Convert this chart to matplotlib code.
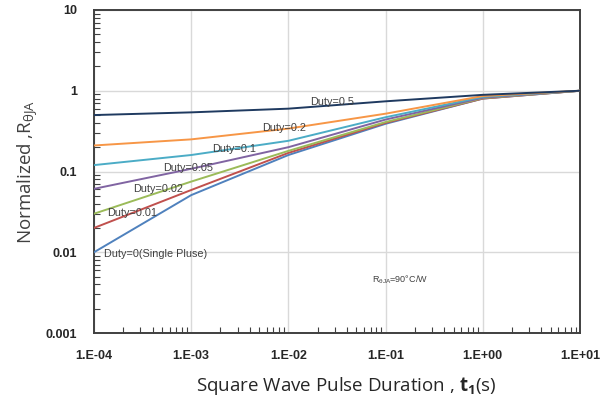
import matplotlib
matplotlib.use("Agg")
import matplotlib.pyplot as plt
from matplotlib.ticker import LogLocator, NullFormatter, FixedLocator

plt.rcParams['font.family'] = ['Liberation Sans', 'DejaVu Sans']
plt.rcParams['mathtext.fontset'] = 'custom'
plt.rcParams['mathtext.rm'] = 'Open Sans'
plt.rcParams['mathtext.bf'] = 'Open Sans:bold'
plt.rcParams['mathtext.it'] = 'Open Sans:italic'

# pulse duration (s)
t1 = [1e-4, 1e-3, 1e-2, 1e-1, 1, 10]

# normalized thermal impedance per duty cycle
duty_05 = [0.50, 0.54, 0.60, 0.74, 0.89, 1.0]
duty_02 = [0.21, 0.25, 0.34, 0.52, 0.86, 1.0]
duty_01 = [0.12, 0.16, 0.24, 0.47, 0.84, 1.0]
duty_005 = [0.061, 0.108, 0.20, 0.44, 0.82, 1.0]
duty_002 = [0.030, 0.075, 0.18, 0.41, 0.81, 1.0]
duty_001 = [0.020, 0.059, 0.17, 0.40, 0.80, 1.0]
single_pulse = [0.010, 0.051, 0.16, 0.39, 0.80, 1.0]

x_ticks = [1e-4, 1e-3, 1e-2, 1e-1, 1, 10]
x_labels = ["1.E-04", "1.E-03", "1.E-02", "1.E-01", "1.E+00", "1.E+01"]
y_ticks = [0.001, 0.01, 0.1, 1, 10]
y_labels = ["0.001", "0.01", "0.1", "1", "10"]

series = [
    (single_pulse, "#4F81BD", "Duty=0(Single Pluse)", (104, 254)),
    (duty_001, "#C0504D", "Duty=0.01", (107, 213)),
    (duty_002, "#9BBB59", "Duty=0.02", (133, 189)),
    (duty_005, "#8064A2", "Duty=0.05", (163, 168)),
    (duty_01, "#4BACC6", "Duty=0.1", (212, 149)),
    (duty_02, "#F79646", "Duty=0.2", (262, 128)),
    (duty_05, "#1F3A60", "Duty=0.5", (310, 102)),
]

W, H = 611, 400
fig = plt.figure(figsize=(W / 100, H / 100), dpi=100)
ax = fig.add_axes([94 / W, 1 - 333 / H, (580 - 94) / W, (333 - 10) / H])

for vals, color, label, (px, py) in series:
    ax.plot(t1, vals, color=color, lw=1.4, zorder=3)
    # labels placed in figure pixels
    fig.text(px / W, 1 - py / H, label, fontsize=7.8, color="#404040",
             ha="left", va="center", zorder=5)

ax.set_xscale("log")
ax.set_yscale("log")
ax.set_xlim(1e-4, 10)
ax.set_ylim(0.001, 10)

ax.xaxis.set_major_locator(FixedLocator(x_ticks))
ax.set_xticklabels(x_labels)
ax.yaxis.set_major_locator(FixedLocator(y_ticks))
ax.set_yticklabels(y_labels)
ax.xaxis.set_minor_locator(LogLocator(base=10, subs=range(2, 10)))
ax.yaxis.set_minor_locator(LogLocator(base=10, subs=range(2, 10)))
ax.xaxis.set_minor_formatter(NullFormatter())
ax.yaxis.set_minor_formatter(NullFormatter())

ax.tick_params(which="major", direction="in", length=0, pad=12,
               labelsize=9, labelcolor="#262626")
ax.tick_params(axis="x", which="major", pad=12)
ax.tick_params(which="minor", direction="in", length=4, width=0.8, color="#404040")
for lab in ax.get_xticklabels() + ax.get_yticklabels():
    lab.set_fontweight("bold")

ax.grid(True, which="major", color="#D9D9D9", lw=1.0, zorder=0)
for sp in ax.spines.values():
    sp.set_color("#404040")
    sp.set_linewidth(1.4)

ax.set_ylabel("Normalized ,R$_{\\mathregular{θJA}}$", fontsize=13.5,
              family="Open Sans", color="#404040", labelpad=4)
ax.set_xlabel("Square Wave Pulse Duration , $\\mathbf{t_1}$(s)", fontsize=13.5,
              family="Open Sans", color="#262626", labelpad=9)
ax.xaxis.set_label_coords(0.52, -0.13)

fig.text(372 / W, 1 - 280 / H, "R$_{\\mathregular{θJA}}$=90°C/W", fontsize=6.5,
         color="#404040", ha="left", va="center")

fig.savefig("out.png", dpi=100)
